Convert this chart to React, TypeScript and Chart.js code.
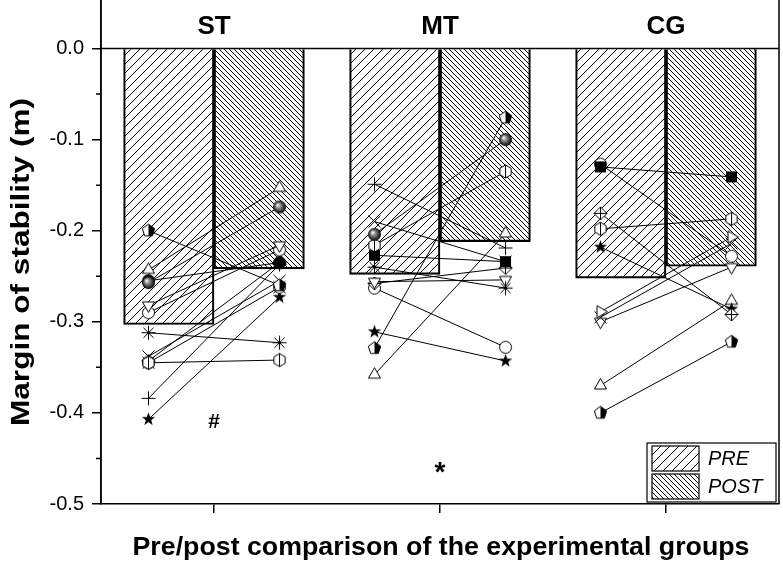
import React, { useEffect, useRef } from "react";
import { Chart, registerables } from "chart.js";
Chart.register(...registerables);

// ---------- data ----------
const groups = ["ST", "MT", "CG"];
const preMeans = [-0.303, -0.248, -0.252];
const postMeans = [-0.242, -0.212, -0.239];
const yTickValues = [0, -0.1, -0.2, -0.3, -0.4, -0.5];
const yMinorValues = [-0.05, -0.15, -0.25, -0.35, -0.45];
const legendLabels = ["PRE", "POST"];
const sigTexts = ["#", "*", ""];
const sigValues = [-0.41, -0.46, 0];

const stMarkers = ["pentHalf", "triangle", "sphere", "dot", "triDown", "circle", "asterisk", "hexagon", "x", "diamondCross", "circleCross", "plus", "star"];
const stPre = [-0.2, -0.243, -0.257, -0.255, -0.282, -0.29, -0.312, -0.345, -0.338, -0.343, -0.345, -0.384, -0.407];
const stPost = [-0.26, -0.153, -0.174, -0.235, -0.216, -0.221, -0.323, -0.342, -0.255, -0.235, -0.262, -0.237, -0.273];

const mtMarkers = ["plus", "x", "sphere", "hexagon", "square", "asterisk", "triDown", "diamondCross", "circle", "star", "pentHalf", "triangle"];
const mtPre = [-0.149, -0.19, -0.204, -0.216, -0.227, -0.24, -0.256, -0.258, -0.263, -0.311, -0.329, -0.358];
const mtPost = [-0.219, -0.234, -0.1, -0.135, -0.234, -0.263, -0.254, -0.241, -0.328, -0.343, -0.076, -0.203];

const cgMarkers = ["square", "circle", "diamondCross", "hexagon", "star", "triRight", "x", "triDown", "triangle", "pentHalf"];
const cgPre = [-0.13, -0.127, -0.181, -0.198, -0.218, -0.289, -0.295, -0.3, -0.37, -0.4];
const cgPost = [-0.141, -0.228, -0.292, -0.187, -0.286, -0.207, -0.214, -0.24, -0.277, -0.322];

// ---------- helpers ----------
function makeMarker(kind: string): HTMLCanvasElement {
  const S = 17;
  const c = document.createElement("canvas");
  c.width = S;
  c.height = S;
  const g = c.getContext("2d")!;
  g.translate(S / 2, S / 2);
  g.lineWidth = 1;
  g.strokeStyle = "#000";
  g.fillStyle = "#fff";
  const poly = (n: number, r: number, rot: number) => {
    g.beginPath();
    for (let i = 0; i < n; i++) {
      const a = rot + (i * 2 * Math.PI) / n;
      const x = r * Math.cos(a), y = r * Math.sin(a);
      if (i) g.lineTo(x, y); else g.moveTo(x, y);
    }
    g.closePath();
  };
  const line = (x1: number, y1: number, x2: number, y2: number) => {
    g.beginPath(); g.moveTo(x1, y1); g.lineTo(x2, y2); g.stroke();
  };
  switch (kind) {
    case "pentHalf":
      poly(5, 6.5, -Math.PI / 2); g.fill();
      g.save(); g.clip(); g.fillStyle = "#000"; g.fillRect(0, -8, 8, 16); g.restore();
      poly(5, 6.5, -Math.PI / 2); g.stroke();
      break;
    case "sphere": {
      const gr = g.createRadialGradient(-2, -2, 0.5, 0, 0, 6.5);
      gr.addColorStop(0, "#f4f4f4"); gr.addColorStop(0.35, "#888"); gr.addColorStop(1, "#000");
      g.fillStyle = gr; g.beginPath(); g.arc(0, 0, 6.5, 0, Math.PI * 2); g.fill();
      break;
    }
    case "dot":
      g.fillStyle = "#000"; g.beginPath(); g.arc(0, 0, 6.5, 0, Math.PI * 2); g.fill();
      break;
    case "circle":
      g.beginPath(); g.arc(0, 0, 6, 0, Math.PI * 2); g.fill(); g.stroke();
      break;
    case "circleCross":
      g.beginPath(); g.arc(0, 0, 6, 0, Math.PI * 2); g.fill(); g.stroke();
      line(-6, -6, 6, 6); line(-6, 6, 6, -6);
      break;
    case "triangle":
      poly(3, 7, -Math.PI / 2); g.fill(); g.stroke();
      break;
    case "triDown":
      poly(3, 7, Math.PI / 2); g.fill(); g.stroke();
      break;
    case "triRight":
      poly(3, 7, 0); g.fill(); g.stroke();
      break;
    case "square":
      g.fillStyle = "#000"; g.fillRect(-5.5, -5.5, 11, 11);
      break;
    case "diamondCross":
      poly(4, 6.5, -Math.PI / 2); g.fill(); g.stroke();
      line(0, -6.5, 0, 6.5); line(-6.5, 0, 6.5, 0);
      break;
    case "hexagon":
      poly(6, 6.5, -Math.PI / 2); g.fill(); g.stroke();
      line(0, -6.5, 0, 6.5);
      break;
    case "star": {
      g.beginPath();
      for (let i = 0; i < 10; i++) {
        const r = i % 2 ? 2.8 : 7;
        const a = -Math.PI / 2 + (i * Math.PI) / 5;
        const x = r * Math.cos(a), y = r * Math.sin(a);
        if (i) g.lineTo(x, y); else g.moveTo(x, y);
      }
      g.closePath(); g.fillStyle = "#000"; g.fill();
      break;
    }
    case "plus":
      line(0, -7, 0, 7); line(-7, 0, 7, 0);
      break;
    case "x":
      line(-6, -6, 6, 6); line(-6, 6, 6, -6);
      break;
    case "asterisk":
      line(0, -7, 0, 7); line(-7, 0, 7, 0); line(-5, -5, 5, 5); line(-5, 5, 5, -5);
      break;
  }
  return c;
}

function hatch(step: number, dir: number): CanvasPattern {
  const c = document.createElement("canvas");
  c.width = step;
  c.height = step;
  const g = c.getContext("2d")!;
  g.strokeStyle = "#000";
  g.lineWidth = 1;
  g.beginPath();
  if (dir === 1) {
    g.moveTo(0, step); g.lineTo(step, 0);
    g.moveTo(-2, 2); g.lineTo(2, -2);
    g.moveTo(step - 2, step + 2); g.lineTo(step + 2, step - 2);
  } else {
    g.moveTo(0, 0); g.lineTo(step, step);
    g.moveTo(-2, step - 2); g.lineTo(2, step + 2);
    g.moveTo(step - 2, -2); g.lineTo(step + 2, 2);
  }
  g.stroke();
  return g.createPattern(c, "repeat")!;
}

const FONT = "'Liberation Sans', Arial, Helvetica, sans-serif";

function fitText(ctx: CanvasRenderingContext2D, text: string, x: number, y: number, target: number, rot: number) {
  const w = ctx.measureText(text).width;
  ctx.save();
  ctx.translate(x, y);
  ctx.rotate(rot);
  ctx.scale(target / w, 1);
  ctx.fillText(text, 0, 0);
  ctx.restore();
}

export default function App() {
  const ref = useRef<HTMLCanvasElement>(null);
  useEffect(() => {
    document.body.style.margin = "0";
    const prePat = hatch(9, 1);
    const postPat = hatch(5, -1);
    const offset = 0.29;
    const barShift = 0.2;
    const lineSets: any[] = [];
    const addGroup = (gi: number, pre: number[], post: number[], marks: string[]) => {
      pre.forEach((v, i) => {
        const img = makeMarker(marks[i]);
        lineSets.push({
          type: "line",
          xAxisID: "x2",
          yAxisID: "y",
          data: [{ x: gi - offset, y: v }, { x: gi + offset, y: post[i] }],
          borderColor: "#000",
          borderWidth: 1,
          pointStyle: img,
          pointRadius: 7,
          fill: false,
          order: 1,
        });
      });
    };
    addGroup(0, stPre, stPost, stMarkers);
    addGroup(1, mtPre, mtPost, mtMarkers);
    addGroup(2, cgPre, cgPost, cgMarkers);

    const deco = {
      id: "deco",
      afterDraw(chart: any) {
        const ctx = chart.ctx;
        const ca = chart.chartArea;
        const ys = chart.scales.y;
        const xs = chart.scales.x;
        ctx.save();
        ctx.strokeStyle = "#000";
        ctx.fillStyle = "#000";
        // frame
        ctx.lineWidth = 1.5;
        ctx.beginPath();
        ctx.moveTo(ca.left, 0); ctx.lineTo(ca.left, ca.bottom);
        ctx.moveTo(ca.right, 0); ctx.lineTo(ca.right, ca.bottom);
        const y0 = ys.getPixelForValue(0);
        ctx.moveTo(ca.left, y0); ctx.lineTo(ca.right, y0);
        ctx.stroke();
        // minor ticks
        ctx.beginPath();
        yMinorValues.forEach((v) => {
          const y = ys.getPixelForValue(v);
          ctx.moveTo(ca.left - 5, y); ctx.lineTo(ca.left, y);
        });
        ctx.stroke();
        // group labels
        ctx.font = `bold 26px ${FONT}`;
        ctx.textAlign = "center";
        ctx.textBaseline = "middle";
        groups.forEach((gname, i) => {
          ctx.fillText(gname, xs.getPixelForValue(i), 27);
        });
        // significance
        sigTexts.forEach((t, i) => {
          if (!t) return;
          ctx.font = t === "*" ? `bold 28px ${FONT}` : `bold 21px ${FONT}`;
          ctx.fillText(t, xs.getPixelForValue(i), ys.getPixelForValue(sigValues[i]) + (t === "*" ? 6 : 0));
        });
        // axis titles
        ctx.font = `bold 25px ${FONT}`;
        fitText(ctx, "Pre/post comparison of the experimental groups", 441, 548, 617, 0);
        fitText(ctx, "Margin of stability (m)", 22, 262, 328, -Math.PI / 2);
        // legend
        const lx = 647, ly = 443, lw = 129, lh = 59;
        ctx.fillStyle = "#fff";
        ctx.fillRect(lx, ly, lw, lh);
        ctx.lineWidth = 1.2;
        ctx.strokeRect(lx, ly, lw, lh);
        const pats = [prePat, postPat];
        legendLabels.forEach((lab, i) => {
          const sy = ly + 3 + i * 28;
          ctx.fillStyle = pats[i];
          ctx.fillRect(lx + 5, sy, 47, 25);
          ctx.lineWidth = 1.2;
          ctx.strokeRect(lx + 5, sy, 47, 25);
          ctx.fillStyle = "#000";
          ctx.font = `italic 20px ${FONT}`;
          ctx.textAlign = "left";
          ctx.fillText(lab, lx + 61, sy + 13);
        });
        ctx.restore();
      },
    };

    const barBase = {
      type: "bar",
      xAxisID: "x2",
      yAxisID: "y",
      borderColor: "#000",
      borderWidth: 1.5,
      categoryPercentage: 1,
      barPercentage: 1,
      grouped: false,
      order: 2,
    };

    const chart = new Chart(ref.current!, {
      type: "bar",
      data: {
        labels: groups,
        datasets: [
          {
            ...barBase,
            label: legendLabels[0],
            data: preMeans.map((v, i) => ({ x: i - barShift, y: v })),
            backgroundColor: prePat,
          } as any,
          {
            ...barBase,
            label: legendLabels[1],
            data: postMeans.map((v, i) => ({ x: i + barShift, y: v })),
            backgroundColor: postPat,
          } as any,
          ...lineSets,
        ],
      },
      options: {
        animation: false,
        responsive: false,
        devicePixelRatio: 1,
        layout: { autoPadding: false, padding: { left: 0, right: 4, top: 0, bottom: 0 } },
        plugins: { legend: { display: false }, tooltip: { enabled: false } },
        scales: {
          x: {
            type: "category",
            offset: true,
            ticks: { display: false },
            grid: { offset: false, drawOnChartArea: false, tickLength: 9, color: "#000", lineWidth: 1.5 },
            border: { color: "#000", width: 1.5 },
            afterFit: (s: any) => { s.height = 58; },
          },
          x2: { type: "linear", min: -0.5, max: 2.5, offset: false, display: false, grid: { offset: false } },
          y: {
            type: "linear",
            min: -0.5,
            max: 0.0532,
            afterBuildTicks: (s: any) => { s.ticks = yTickValues.map((v) => ({ value: v })); },
            ticks: {
              callback: (v: any) => Number(v).toFixed(1),
              font: { size: 20, family: FONT },
              color: "#000",
              padding: 8,
            },
            grid: { drawOnChartArea: false, tickLength: 9, color: "#000", lineWidth: 1.5 },
            border: { color: "#000", width: 1.5 },
            afterFit: (s: any) => { s.width = 101; s.paddingTop = 0; s.paddingBottom = 0; },
          },
        },
      } as any,
      plugins: [deco],
    });
    return () => chart.destroy();
  }, []);
  return (
    <div style={{ position: "relative", width: 783, height: 562 }}>
      <canvas ref={ref} width={783} height={562} />
    </div>
  );
}
